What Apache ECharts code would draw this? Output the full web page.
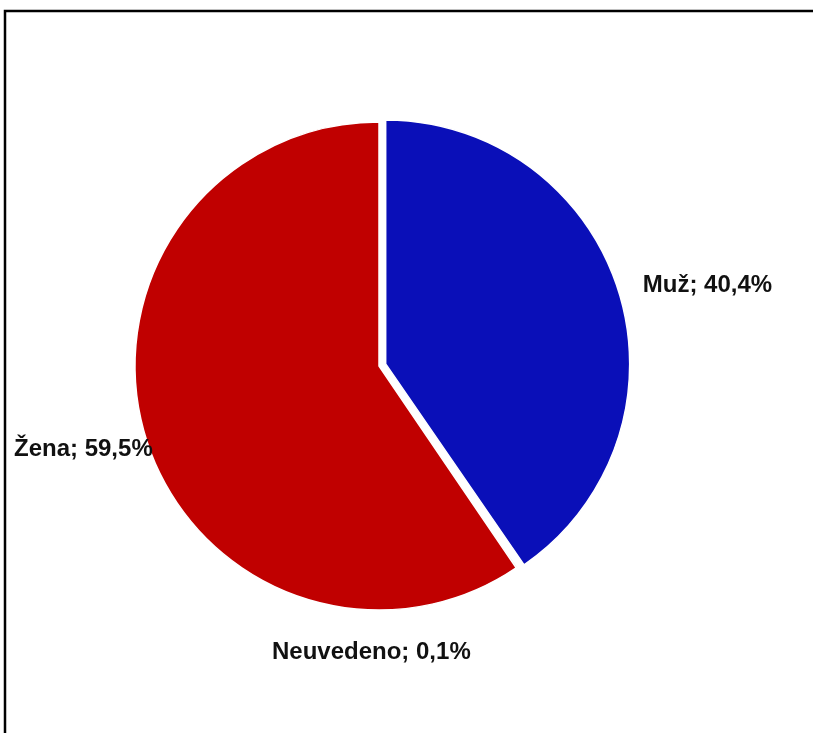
<!DOCTYPE html>
<html>
<head>
<meta charset="utf-8">
<script src="https://cdn.jsdelivr.net/npm/echarts@6/dist/echarts.min.js"></script>
<style>
html,body{margin:0;padding:0;background:#fff;}
#c{width:813px;height:733px;}
</style>
</head>
<body>
<div id="c"></div>
<script>
const categories = ['Muž', 'Neuvedeno', 'Žena'];
const values = [40.4, 0.1, 59.5];
const colors = ['#0A0FB8', '#9E9E9E', '#C00000'];

const labelPos = {
  'Neuvedeno': { x: 272, y: 652 },
  'Žena': { x: 14, y: 449 }
};

const chart = echarts.init(document.getElementById('c'), null, { renderer: 'canvas' });
chart.setOption({
  animation: false,
  backgroundColor: '#fff',
  graphic: [{
    type: 'rect',
    shape: { x: 5, y: 11, width: 1000, height: 1000 },
    style: { fill: 'none', stroke: '#000', lineWidth: 2.5 },
    silent: true
  }],
  series: [{
    type: 'pie',
    center: [379, 366],
    radius: 244,
    startAngle: 90,
    clockwise: true,
    avoidLabelOverlap: false,
    selectedMode: 'multiple',
    selectedOffset: 7,
    itemStyle: { borderColor: '#fff', borderWidth: 1.5 },
    label: {
      show: true,
      position: 'outside',
      alignTo: 'none',
      overflow: 'none',
      fontFamily: 'Liberation Sans, Arial, sans-serif',
      fontWeight: 'bold',
      fontSize: 24,
      color: '#111',
      formatter: p => p.name + '; ' + p.value.toFixed(1).replace('.', ',') + '%'
    },
    labelLine: { show: false, length: 20, length2: 0 },
    labelLayout: params => {
      const lp = labelPos[categories[params.dataIndex]];
      if (!lp) return {};
      return { x: lp.x, y: lp.y, align: 'left', verticalAlign: 'middle', hideOverlap: false };
    },
    data: categories.map((c, i) => ({
      name: c,
      value: values[i],
      selected: i === 0,
      label: { distanceToLabelLine: 5 },
      itemStyle: { color: colors[i] }
    }))
  }]
});
</script>
</body>
</html>
